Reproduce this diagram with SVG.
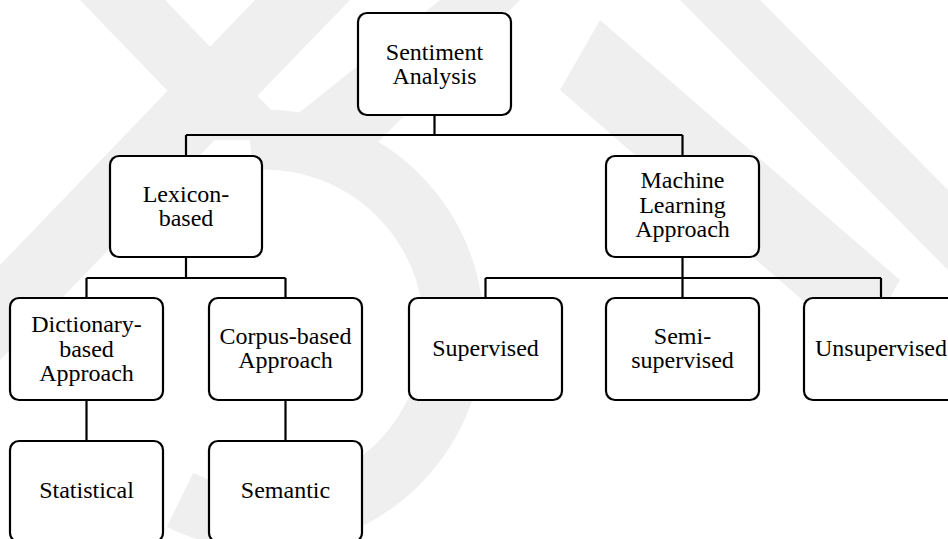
<svg xmlns="http://www.w3.org/2000/svg" width="948" height="539" viewBox="0 0 948 539">
<style>
.box{fill:#ffffff;stroke:#000000;stroke-width:2.2}
.lbl{font-family:"Liberation Serif","Times New Roman",serif;font-size:24px;fill:#000000;text-anchor:middle}
.wm{fill:#efefef}
.wmr{fill:none;stroke:#efefef}
#connectors path{fill:none;stroke:#000000;stroke-width:2.2}
</style>
<rect x="0" y="0" width="948" height="539" fill="#ffffff"/>
<g id="watermark">
<polygon class="wm" points="80,0 165,0 300,140 215,140"/>
<polygon class="wm" points="255,0 350,0 60,300 0,360 0,265"/>
<path class="wmr" stroke-width="60" d="M 250,140 A 190 190 0 1 1 180,500"/>
<polygon class="wm" points="560,90 600,20 900,280 860,350"/>
<polygon class="wm" points="680,0 760,0 948,190 948,270"/>
<polygon class="wm" points="440,0 520,0 350,170 290,120"/>
</g>
<g id="connectors">
<path d="M434.5,115 V135 M186,135 H682.5 M186,135 V156 M682.5,135 V156"/>
<path d="M186,257 V278 M86.5,278 H285.5 M86.5,278 V298 M285.5,278 V298"/>
<path d="M682.5,257 V278 M485.5,278 H881 M485.5,278 V298 M682.5,278 V298 M881,278 V298"/>
<path d="M86.5,400 V441 M285.5,400 V441"/>
</g>
<g id="root">
<rect class="box" x="358" y="13" width="153" height="102" rx="9"/>
<text class="lbl" x="434.5" y="60">Sentiment</text>
<text class="lbl" x="434.5" y="84">Analysis</text>
</g>
<g id="lexicon">
<rect class="box" x="110" y="156" width="152" height="101" rx="9"/>
<text class="lbl" x="186" y="202">Lexicon-</text>
<text class="lbl" x="186" y="226">based</text>
</g>
<g id="ml">
<rect class="box" x="606" y="156" width="153" height="101" rx="9"/>
<text class="lbl" x="682.5" y="188">Machine</text>
<text class="lbl" x="682.5" y="212.5">Learning</text>
<text class="lbl" x="682.5" y="237">Approach</text>
</g>
<g id="dictionary">
<rect class="box" x="10" y="298" width="153" height="102" rx="9"/>
<text class="lbl" x="86.5" y="332">Dictionary-</text>
<text class="lbl" x="86.5" y="356.5">based</text>
<text class="lbl" x="86.5" y="381">Approach</text>
</g>
<g id="corpus">
<rect class="box" x="209" y="298" width="153" height="102" rx="9"/>
<text class="lbl" x="285.5" y="343.5">Corpus-based</text>
<text class="lbl" x="285.5" y="368">Approach</text>
</g>
<g id="supervised">
<rect class="box" x="409" y="298" width="153" height="102" rx="9"/>
<text class="lbl" x="485.5" y="356">Supervised</text>
</g>
<g id="semi">
<rect class="box" x="606" y="298" width="153" height="102" rx="9"/>
<text class="lbl" x="682.5" y="343.5">Semi-</text>
<text class="lbl" x="682.5" y="368">supervised</text>
</g>
<g id="unsupervised">
<rect class="box" x="804" y="298" width="156" height="102" rx="9"/>
<text class="lbl" x="881" y="356">Unsupervised</text>
</g>
<g id="statistical">
<rect class="box" x="10" y="441" width="153" height="101" rx="9"/>
<text class="lbl" x="86.5" y="498">Statistical</text>
</g>
<g id="semantic">
<rect class="box" x="209" y="441" width="153" height="101" rx="9"/>
<text class="lbl" x="285.5" y="498">Semantic</text>
</g>
</svg>
